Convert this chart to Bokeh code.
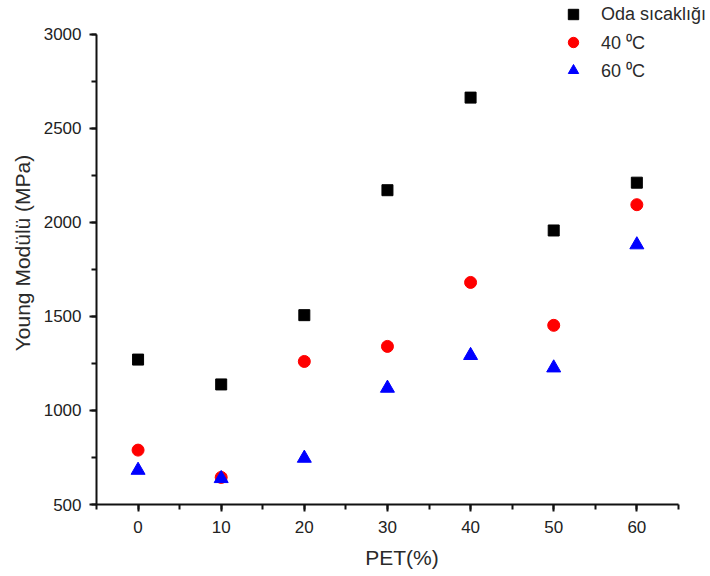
from bokeh.plotting import figure
from bokeh.models import Range1d, SingleIntervalTicker, Legend, LegendItem
from bokeh.embed import file_html
from bokeh.resources import INLINE

# Data
pet = [0, 10, 20, 30, 40, 50, 60]
oda = [1270, 1138, 1506, 2170, 2662, 1956, 2210]
c40 = [789, 644, 1260, 1340, 1680, 1452, 2093]
c60 = [682, 638, 746, 1118, 1292, 1226, 1880]
labels = ["Oda sıcaklığı", "40 \u2070C", "60 \u2070C"]
x_label = "PET(%)"
y_label = "Young Modülü (MPa)"

FONT = "Liberation Sans"

p = figure(width=708, height=574,
           x_range=Range1d(-5, 68.5), y_range=Range1d(500, 3172.7),
           output_backend="svg", toolbar_location=None,
           min_border_left=96, min_border_right=1,
           min_border_top=1, min_border_bottom=70)
p.xgrid.visible = False
p.ygrid.visible = False
p.outline_line_color = None
p.background_fill_color = "white"
p.border_fill_color = "white"

r1 = p.scatter(pet, oda, marker="square", size=11, color="black")
r2 = p.scatter(pet, c40, marker="circle", size=12, color="#ff0000")
r3 = p.scatter(pet, c60, marker="triangle", size=14, color="#0000ff")

p.xaxis.ticker = SingleIntervalTicker(interval=10, num_minor_ticks=2)
p.yaxis.ticker = SingleIntervalTicker(interval=500, num_minor_ticks=2)
p.xaxis.bounds = (-5, 65)
p.yaxis.bounds = (500, 3000)

for ax in (p.xaxis[0], p.yaxis[0]):
    ax.axis_line_width = 2
    ax.axis_line_color = "#111111"
    ax.major_tick_line_width = 2
    ax.minor_tick_line_width = 2
    ax.major_tick_line_color = "#111111"
    ax.minor_tick_line_color = "#111111"
    ax.major_tick_out = 7
    ax.major_tick_in = 0
    ax.minor_tick_out = 5
    ax.minor_tick_in = 0
    ax.major_label_text_font = FONT
    ax.major_label_text_font_size = "17px"
    ax.major_label_text_color = "#222222"
    ax.axis_label_text_font = FONT
    ax.axis_label_text_font_size = "21px"
    ax.axis_label_text_font_style = "normal"
    ax.axis_label_text_color = "#2a2a2a"

p.xaxis.axis_label = x_label
p.yaxis.axis_label = y_label
p.xaxis.major_label_standoff = 9
p.yaxis.major_label_standoff = 8
p.xaxis.axis_label_standoff = 10
p.yaxis.axis_label_standoff = 7

legend = Legend(items=[LegendItem(label=labels[0], renderers=[r1]),
                       LegendItem(label=labels[1], renderers=[r2]),
                       LegendItem(label=labels[2], renderers=[r3])],
                location=(464, 420), padding=0, margin=0, spacing=0,
                glyph_width=26, glyph_height=28, label_height=28,
                label_standoff=15, border_line_color=None,
                background_fill_alpha=0,
                label_text_font=FONT, label_text_font_size="18px",
                label_text_color="#2a2a2a")
p.add_layout(legend)

open("out.html", "w").write(file_html(p, INLINE))
